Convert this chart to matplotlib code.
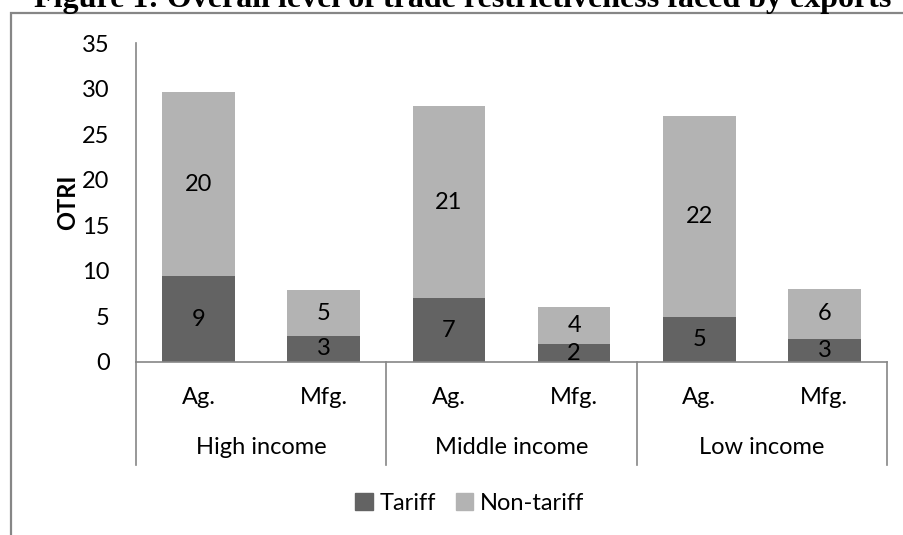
import matplotlib
matplotlib.use('Agg')
import matplotlib.pyplot as plt
import matplotlib.transforms as mtransforms
from matplotlib.patches import Rectangle, Patch

# values
groups = ['High income', 'Middle income', 'Low income']
sectors = ['Ag.', 'Mfg.', 'Ag.', 'Mfg.', 'Ag.', 'Mfg.']
tariff = [9.4, 2.9, 7.0, 1.95, 4.9, 2.55]
non_tariff = [20.2, 4.95, 21.1, 4.05, 22.1, 5.5]

dark = '#636363'
light = '#b3b3b3'
axis_col = '#868686'
fs = 17

plt.rcParams['font.family'] = ['Lato', 'DejaVu Sans']

W, H = 904, 535
fig = plt.figure(figsize=(W / 100, H / 100), dpi=100)

# outer chart frame (runs off the right and bottom of the picture)
fig.patches.append(Rectangle((11 / W, -0.2), 1.2, 1.2 - 13 / H,
                             transform=fig.transFigure, fill=False,
                             edgecolor=axis_col, linewidth=1.6))

fig.text(463 / W, 1 - 7.5 / H,
         'Figure 1: Overall level of trade restrictiveness faced by exports',
         family='Liberation Serif', weight='bold', fontsize=23,
         ha='center', va='baseline')

top = 43
ax = fig.add_axes([136 / W, 1 - 362 / H, (887 - 136) / W, (362 - top) / H])
x = list(range(len(sectors)))
ax.bar(x, tariff, width=0.58, color=dark, label='Tariff')
ax.bar(x, non_tariff, width=0.58, bottom=tariff, color=light, label='Non-tariff')

for i in x:
    ax.text(i, tariff[i] / 2, '%.0f' % tariff[i], ha='center', va='center', fontsize=fs)
    ax.text(i, tariff[i] + non_tariff[i] / 2, '%.0f' % non_tariff[i],
            ha='center', va='center', fontsize=fs)

ax.set_xlim(-0.5, 5.5)
ax.set_ylim(0, 35)
ax.set_yticks(range(0, 36, 5))
ax.tick_params(axis='y', length=0, labelsize=fs, pad=19)
ax.set_xticks([])
for s in ['top', 'right']:
    ax.spines[s].set_visible(False)
for s in ['left', 'bottom']:
    ax.spines[s].set_color(axis_col)
    ax.spines[s].set_linewidth(1.2)
ax.set_ylabel('OTRI', fontsize=fs, weight='bold', labelpad=2)

# two-level category axis
trans = mtransforms.blended_transform_factory(ax.transData, ax.transAxes)
ph = 362 - top
for i, s in enumerate(sectors):
    ax.text(i, -(398 - 362) / ph, s, transform=trans, ha='center', va='center', fontsize=fs)
for g, name in enumerate(groups):
    ax.text(2 * g + 0.5, -(448 - 362) / ph, name, transform=trans,
            ha='center', va='center', fontsize=fs)
for xs in [-0.5, 1.5, 3.5, 5.5]:
    ax.plot([xs, xs], [0, -(465 - 362) / ph], transform=trans, color=axis_col,
            linewidth=1.2, clip_on=False)

handles = [Patch(color=dark, label='Tariff'), Patch(color=light, label='Non-tariff')]
fig.legend(handles=handles, loc='center', bbox_to_anchor=(470 / W, 1 - 503 / H),
           ncol=2, frameon=False, fontsize=fs, handlelength=0.75, handleheight=0.75,
           handletextpad=0.3, columnspacing=0.8)

fig.savefig('out.png', dpi=100)
